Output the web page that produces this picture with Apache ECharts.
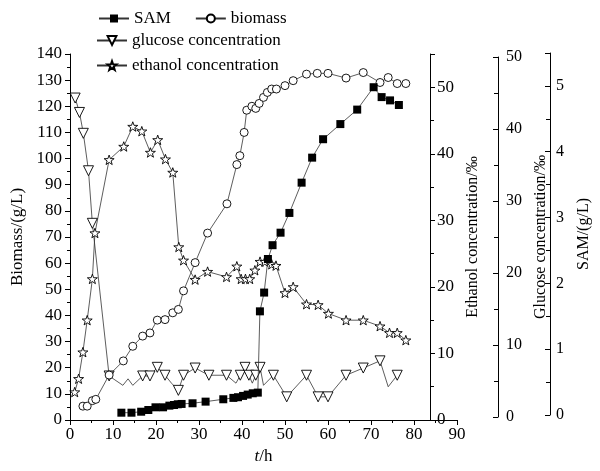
<!DOCTYPE html>
<html>
<head>
<meta charset="utf-8">
<script src="https://cdn.jsdelivr.net/npm/echarts@6/dist/echarts.min.js"></script>
<style>
html,body{margin:0;padding:0;background:#fff;}
#chart{width:600px;height:471px;}
</style>
</head>
<body>
<div id="chart"></div>
<script>
// ---- data ----
const samT = [12.2,14.6,16.9,18.6,20.3,22.1,23.6,24.7,25.6,26.5,29.1,32.2,36.4,38.8,39.9,41.1,42.2,43.4,44.6,45.1,46.1,47.0,48.1,50.0,52.1,55.0,57.5,60.1,64.2,68.2,72.1,74.0,76.0,78.1];
const samV = [0.035,0.035,0.05,0.076,0.117,0.117,0.142,0.152,0.163,0.168,0.178,0.203,0.239,0.26,0.27,0.29,0.31,0.33,0.34,1.575,1.86,2.37,2.58,2.77,3.07,3.53,3.91,4.19,4.42,4.64,4.98,4.83,4.78,4.71];

const bioT = [3.0,4.0,5.2,6.0,9.1,12.4,14.6,16.9,18.6,20.3,22.1,23.9,25.2,26.4,29.1,32.0,36.5,38.8,39.5,40.5,41.1,42.3,43.2,44.0,45.0,45.9,46.9,48.0,50.0,51.9,55.0,57.5,60.0,64.2,68.2,72.1,74.0,76.1,78.1];
const bioV = [5.3,5.3,7.4,7.9,17.2,22.6,28.2,32.1,33.3,38.2,38.4,41.0,42.3,49.4,60.2,71.5,82.7,97.7,101.1,110.0,118.5,120.0,119.2,121.1,123.4,125.3,126.6,126.6,127.9,129.8,132.3,132.6,132.6,130.8,132.9,129.1,131.0,128.7,128.7];

const gluT = [1.2,2.2,3.1,4.3,5.2,9.1,12.3,13.5,14.6,16.9,18.6,20.3,22.1,23.6,25.2,26.4,29.1,32.3,36.4,38.6,39.6,40.7,41.6,42.4,43.2,44.2,45.0,47.3,50.4,55.0,57.7,60.0,64.2,68.2,72.1,74.0,76.1];
const gluV = [44.3,42.3,39.4,34.2,26.9,5.7,4.4,5.3,4.4,5.7,5.7,6.9,5.8,4.7,3.7,5.8,6.8,5.8,5.8,4.7,5.8,6.9,5.8,4.7,5.8,6.9,4.4,5.8,2.8,5.8,2.8,2.8,5.8,6.8,7.8,4.2,5.8];
// sample times whose glucose marker is absent in the reference (line vertex only)
const gluNoMarkerT = [12.3,13.5,14.6,23.6,38.6,42.4,45.0,74.0];

const ethT = [1.1,2.0,3.0,4.0,5.2,5.8,9.1,12.5,14.6,16.7,18.7,20.4,22.2,23.9,25.3,26.4,29.1,32.0,36.4,38.8,39.8,40.8,41.8,43.0,44.2,45.3,46.9,47.9,50.0,51.9,55.0,57.7,60.1,64.2,68.2,72.1,74.3,76.1,78.1];
const ethV = [4.2,6.2,10.2,15.0,21.2,28.1,39.1,41.1,44.1,43.4,40.2,42.1,39.2,37.2,26.0,24.0,21.1,22.3,21.5,23.1,21.2,21.2,21.2,22.5,23.8,23.8,23.4,23.2,19.1,20.0,17.4,17.3,16.0,15.0,15.0,14.1,13.1,13.1,12.0];

const seriesNames = ['SAM','biomass','glucose concentration','ethanol concentration'];
const xTicks = {min:0, max:90, interval:10};

// ---- build chart ----
const font = 'Liberation Serif';
const zip = (a,b) => a.map((t,i)=>[t,b[i]]);
const starPath = 'path://M0,-10L2.35,-3.24L9.51,-3.09L3.8,1.24L5.88,8.09L0,4L-5.88,8.09L-3.8,1.24L-9.51,-3.09L-2.35,-3.24Z';
const lineStyle = {color:'#333', width:0.8};
const axLine = {show:true, onZero:false, lineStyle:{color:'#000', width:1}};
const lbl = (m, fs)=>({color:'#000', fontFamily:font, fontSize:fs||16, margin:m});

const gluData = gluT.map((t,i)=> gluNoMarkerT.includes(t) ? {value:[t,gluV[i]], symbol:'none'} : [t,gluV[i]]);

const gridL = 70, gridR = 143;
const chart = echarts.init(document.getElementById('chart'), null, {renderer:'canvas'});
chart.setOption({
  animation:false,
  backgroundColor:'#fff',
  textStyle:{fontFamily:font},
  grid:[
    {left:gridL, right:gridR, top:54, bottom:51},
    {left:gridL, right:gridR, top:57, bottom:54},
    {left:gridL, right:gridR, top:53, bottom:56}
  ],
  legend:[
    {data:[seriesNames[0],seriesNames[1]], left:93, top:5, itemWidth:30, itemHeight:10, itemGap:24,
     textStyle:{fontFamily:font, fontSize:17, color:'#000'}},
    {data:[seriesNames[2]], left:91, top:27, itemWidth:30, itemHeight:11,
     textStyle:{fontFamily:font, fontSize:17, color:'#000'}},
    {data:[seriesNames[3]], left:91, top:52, itemWidth:30, itemHeight:11,
     textStyle:{fontFamily:font, fontSize:17, color:'#000'}}
  ],
  xAxis:[
    {gridIndex:0, type:'value', min:xTicks.min, max:xTicks.max, interval:xTicks.interval,
     name:'{i|t}/h', nameLocation:'middle', nameGap:27,
     nameTextStyle:{fontFamily:font, fontSize:17, color:'#000', rich:{i:{fontStyle:'italic', fontFamily:font, fontSize:17, color:'#000'}}},
     axisLine:axLine, axisTick:{show:true, length:5, lineStyle:{color:'#000'}},
     minorTick:{show:true, splitNumber:2, length:3, lineStyle:{color:'#000'}},
     splitLine:{show:false}, axisLabel:lbl(6, 17)},
    {gridIndex:1, type:'value', min:xTicks.min, max:xTicks.max, show:false},
    {gridIndex:2, type:'value', min:xTicks.min, max:xTicks.max, show:false}
  ],
  yAxis:[
    {gridIndex:0, type:'value', min:0, max:140, interval:10, position:'left',
     name:'Biomass/(g/L)', nameLocation:'middle', nameGap:44, nameRotate:90,
     nameTextStyle:{fontFamily:font, fontSize:17, color:'#000'},
     axisLine:axLine, axisTick:{show:true, length:5, lineStyle:{color:'#000'}},
     minorTick:{show:true, splitNumber:2, length:3, lineStyle:{color:'#000'}},
     splitLine:{show:false}, axisLabel:lbl(8, 17)},
    {gridIndex:0, type:'value', min:0, max:55, interval:10, position:'right', offset:-27,
     name:'Ethanol concentration/‰', nameLocation:'middle', nameGap:35, nameRotate:90,
     nameTextStyle:{fontFamily:font, fontSize:16, color:'#000'},
     axisLine:axLine, axisTick:{show:true, length:5, lineStyle:{color:'#000'}},
     minorTick:{show:true, splitNumber:2, length:4, lineStyle:{color:'#000'}},
     splitLine:{show:false}, axisLabel:Object.assign(lbl(7, 17),{showMaxLabel:false})},
    {gridIndex:1, type:'value', min:0, max:50, interval:10, position:'right', offset:41,
     name:'Glucose concentration/‰', nameLocation:'middle', nameGap:29, nameRotate:90,
     nameTextStyle:{fontFamily:font, fontSize:16, color:'#000'},
     axisLine:axLine, axisTick:{show:true, inside:true, length:5, lineStyle:{color:'#000'}},
     minorTick:{show:true, splitNumber:2, length:4, lineStyle:{color:'#000'}},
     splitLine:{show:false}, axisLabel:lbl(8, 16)},
    {gridIndex:2, type:'value', min:0, max:5.5, interval:1, position:'right', offset:101,
     name:'SAM/(g/L)', nameLocation:'middle', nameGap:26, nameRotate:90,
     nameTextStyle:{fontFamily:font, fontSize:16, color:'#000'},
     axisLine:axLine, axisTick:{show:true, inside:true, length:5, lineStyle:{color:'#000'}},
     minorTick:{show:true, splitNumber:2, length:4, lineStyle:{color:'#000'}},
     splitLine:{show:false}, axisLabel:Object.assign(lbl(6, 16),{showMaxLabel:false})}
  ],
  series:[
    {name:seriesNames[0], type:'line', xAxisIndex:2, yAxisIndex:3, data:zip(samT,samV),
     symbol:'rect', symbolSize:8, lineStyle:lineStyle,
     itemStyle:{color:'#000', borderColor:'#000', borderWidth:0}, z:5},
    {name:seriesNames[1], type:'line', xAxisIndex:0, yAxisIndex:0, data:zip(bioT,bioV),
     symbol:'circle', symbolSize:8, showAllSymbol:true, lineStyle:lineStyle,
     itemStyle:{color:'#fff', borderColor:'#000', borderWidth:0.9}, z:4},
    {name:seriesNames[2], type:'line', xAxisIndex:1, yAxisIndex:2, data:gluData,
     symbol:'triangle', symbolRotate:180, symbolSize:10, showAllSymbol:true, lineStyle:lineStyle,
     itemStyle:{color:'#fff', borderColor:'#000', borderWidth:0.9}, z:3},
    {name:seriesNames[3], type:'line', xAxisIndex:0, yAxisIndex:1, data:zip(ethT,ethV),
     symbol:starPath, symbolKeepAspect:true, symbolSize:10, showAllSymbol:true, lineStyle:lineStyle,
     itemStyle:{color:'#fff', borderColor:'#000', borderWidth:0.9}, z:3}
  ]
});
</script>
</body>
</html>
